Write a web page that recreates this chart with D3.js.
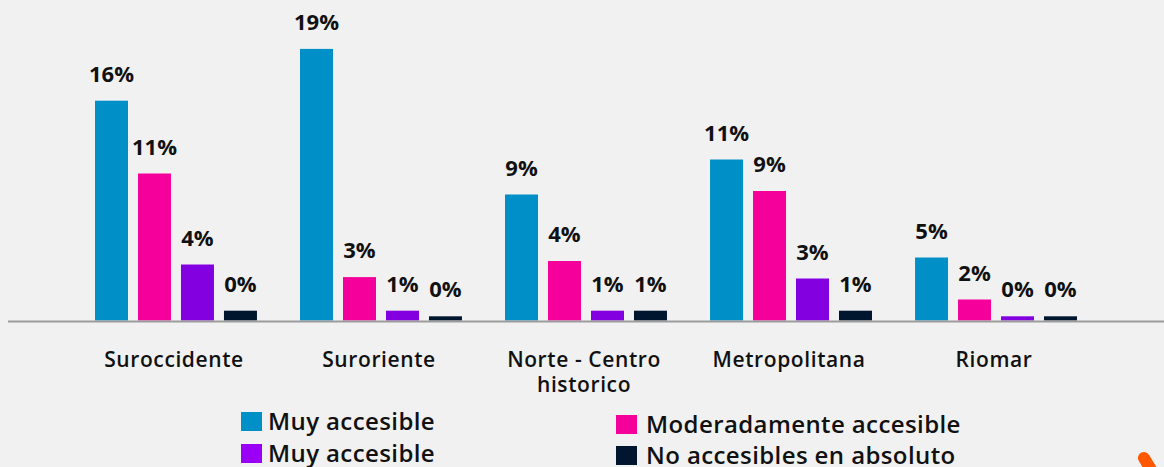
<!DOCTYPE html>
<html>
<head>
<meta charset="utf-8">
<script src="https://cdn.jsdelivr.net/npm/d3@7"></script>
<style>
  body { margin: 0; background: #f1f1f1; }
  text { font-family: "Open Sans", sans-serif; fill: #111; }
</style>
</head>
<body>
<div id="chart"></div>
<script>
// regions, "|" breaks the label onto a second line
var categories = ["Suroccidente", "Suroriente", "Norte - Centro|historico", "Metropolitana", "Riomar"];
var seriesNames = ["Muy accesible", "Moderadamente accesible", "Muy accesible", "No accesibles en absoluto"];
var seriesColors = ["#008fc6", "#f5009a", "#8300e0", "#00162f"];
var legendColors = ["#008fc6", "#f5009a", "#9a00f5", "#00162f"];

// bar heights (percent)
var muyAccesible = [15.7, 19.4, 9.0, 11.5, 4.5];
var moderadamente = [10.5, 3.1, 4.25, 9.25, 1.5];
var muyAccesible2 = [4.0, 0.7, 0.7, 3.0, 0.3];
var noAccesibles = [0.7, 0.3, 0.7, 0.7, 0.3];

// labels printed above the bars
var labelMuy = ["16%", "19%", "9%", "11%", "5%"];
var labelModerada = ["11%", "3%", "4%", "9%", "2%"];
var labelMuy2 = ["4%", "1%", "1%", "3%", "0%"];
var labelNo = ["0%", "0%", "1%", "1%", "0%"];

var series = [muyAccesible, moderadamente, muyAccesible2, noAccesibles];
var seriesLabels = [labelMuy, labelModerada, labelMuy2, labelNo];

var w = 1164;
var h = 467;
var baseY = 320.5;

var svg = d3.select("#chart")
    .append("svg")
    .attr("width", w)
    .attr("height", h);

svg.append("rect")
    .attr("width", w)
    .attr("height", h)
    .attr("fill", "#f1f1f1");

var x0 = d3.scaleBand()
    .domain(categories)
    .range([74.5, 1097.5])
    .paddingInner(0.21)
    .paddingOuter(0.1);

var x1 = d3.scaleBand()
    .domain(d3.range(series.length))
    .range([0, x0.bandwidth()])
    .paddingInner(10 / 43);

var y = d3.scaleLinear()
    .domain([0, 20])
    .range([baseY, baseY - 280]);

// flatten into one row per bar
var rows = [];
categories.forEach(function(c, i) {
    series.forEach(function(s, j) {
        rows.push({cat: c, s: j, v: s[i], label: seriesLabels[j][i]});
    });
});

var groups = svg.selectAll("g.bar")
    .data(rows)
    .enter()
    .append("g")
    .attr("class", "bar")
    .attr("transform", function(d) { return "translate(" + (x0(d.cat) + x1(d.s)) + ",0)"; });

groups.append("rect")
    .attr("x", 0)
    .attr("width", x1.bandwidth())
    .attr("y", function(d) { return y(d.v); })
    .attr("height", function(d) { return baseY - y(d.v); })
    .attr("fill", function(d) { return seriesColors[d.s]; });

groups.append("text")
    .attr("x", x1.bandwidth() / 2)
    .attr("y", function(d) { return y(d.v) - 19; })
    .attr("text-anchor", "middle")
    .style("font-size", "22px")
    .style("font-weight", "700")
    .text(function(d) { return d.label; });

// baseline
svg.append("line")
    .attr("x1", 8)
    .attr("x2", w)
    .attr("y1", baseY + 1)
    .attr("y2", baseY + 1)
    .style("stroke", "#9c9c9c")
    .style("stroke-width", 2);

// category labels
var xAxis = d3.axisBottom(x0).tickSize(0).tickFormat("");
var axisG = svg.append("g")
    .attr("transform", "translate(0," + baseY + ")")
    .call(xAxis);
axisG.select(".domain").remove();

axisG.selectAll(".tick")
    .append("text")
    .attr("text-anchor", "middle")
    .style("font-size", "21px")
    .style("font-weight", "600")
    .style("letter-spacing", "0.6px")
    .each(function(d) {
        var parts = d.split("|");
        var t = d3.select(this);
        parts.forEach(function(p, k) {
            t.append("tspan")
                .attr("x", -2)
                .attr("y", 46 + k * 25)
                .text(p);
        });
    });

// legend, two columns
var legendPos = [[241, 412, 27], [616, 415, 30], [241, 444, 27], [616, 446, 30]];

var legend = svg.selectAll("g.legend")
    .data(seriesNames)
    .enter()
    .append("g")
    .attr("class", "legend")
    .attr("transform", function(d, i) { return "translate(" + legendPos[i][0] + "," + legendPos[i][1] + ")"; });

legend.append("rect")
    .attr("width", 21)
    .attr("height", 19)
    .attr("fill", function(d, i) { return legendColors[i]; });

legend.append("text")
    .attr("x", function(d, i) { return legendPos[i][2]; })
    .attr("y", 18)
    .style("font-size", "24px")
    .style("font-weight", "600")
    .style("letter-spacing", "0.4px")
    .text(function(d) { return d; });

// orange corner mark
svg.append("line")
    .attr("x1", 1144)
    .attr("y1", 458)
    .attr("x2", 1156)
    .attr("y2", 478)
    .style("stroke", "#ff5800")
    .style("stroke-width", 12)
    .style("stroke-linecap", "round");
</script>
</body>
</html>
